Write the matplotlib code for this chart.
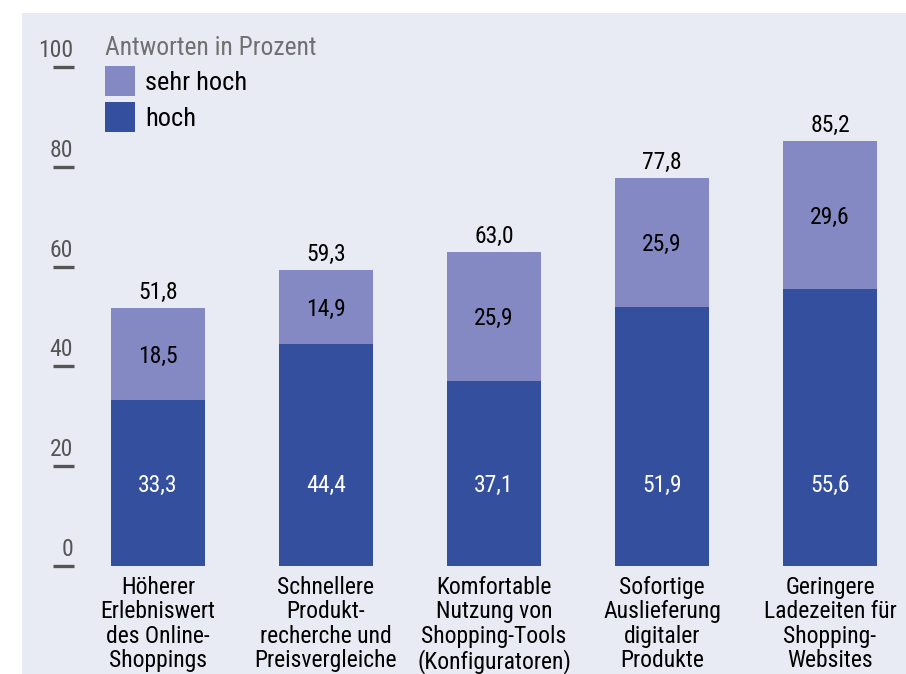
import matplotlib
matplotlib.use("Agg")
import matplotlib.pyplot as plt
from matplotlib import font_manager as fm
from matplotlib.patches import Rectangle, Patch
from matplotlib.transforms import ScaledTranslation

# pick a condensed font if any is installed
entries = fm.fontManager.ttflist
cond = [f for f in entries if f.stretch in ("condensed", "semi-condensed", "extra-condensed", 500, 400, 300, 200, 100)
        or "Condensed" in f.name or "Narrow" in f.name]
pref = ["Roboto Condensed", "Open Sans Condensed", "Liberation Sans Narrow", "DejaVu Sans"]
chosen = None
stretch = "normal"
for p in pref:
    for f in cond:
        if f.name == p:
            chosen, stretch = p, f.stretch
            break
    if chosen:
        break
if chosen is None and cond:
    chosen, stretch = cond[0].name, cond[0].stretch
if chosen is None:
    chosen = "Roboto"
plt.rcParams['font.family'] = [chosen, 'DejaVu Sans']
plt.rcParams['font.stretch'] = stretch if isinstance(stretch, str) else "condensed"

categories = [
    "Höherer\nErlebniswert\ndes Online-\nShoppings",
    "Schnellere\nProdukt-\nrecherche und\nPreisvergleiche",
    "Komfortable\nNutzung von\nShopping-Tools\n(Konfiguratoren)",
    "Sofortige\nAuslieferung\ndigitaler\nProdukte",
    "Geringere\nLadezeiten für\nShopping-\nWebsites",
]
hoch = [33.3, 44.4, 37.1, 51.9, 55.6]
sehr_hoch = [18.5, 14.9, 25.9, 25.9, 29.6]
totals = [51.8, 59.3, 63.0, 77.8, 85.2]
yticks = [0, 20, 40, 60, 80, 100]
legend_title = "Antworten in Prozent"
series_names = ["sehr hoch", "hoch"]

DARK = "#344f9e"
LIGHT = "#8489c3"
BG = "#e9ebf4"
GRAY = "#555555"

W, H, DPI = 906, 674, 100
fig = plt.figure(figsize=(W / DPI, H / DPI), dpi=DPI)
fig.patch.set_facecolor("white")
fig.patches.append(Rectangle((22 / W, 0), 1 - 22 / W, (H - 13) / H,
                             transform=fig.transFigure, facecolor=BG,
                             edgecolor="none", zorder=-10))

ax = fig.add_axes([74 / W, 108 / H, (W - 74) / W, 499 / H])
ax.set_facecolor("none")
for s in ax.spines.values():
    s.set_visible(False)

x = list(range(len(categories)))
bw = 0.56
ax.bar(x, hoch, width=bw, color=DARK, zorder=2)
ax.bar(x, sehr_hoch, bottom=hoch, width=bw, color=LIGHT, zorder=2)

fmt = lambda v: f"{v:.1f}".replace(".", ",")
fs = 17
for i in x:
    ax.text(i, 14.8, fmt(hoch[i]), ha="center", va="baseline", color="white", fontsize=fs)
    ax.text(i, hoch[i] + sehr_hoch[i] / 2, fmt(sehr_hoch[i]), ha="center",
            va="center_baseline", color="black", fontsize=fs)
    ax.annotate(fmt(totals[i]), (i, totals[i]), xytext=(0, 6.5), textcoords="offset points",
                ha="center", va="baseline", color="black", fontsize=fs)

ax.set_xlim(-0.5, (W - 158) / 168)
ax.set_ylim(0, 100)
ax.set_xticks(x)
ax.set_xticklabels(categories, fontsize=fs, linespacing=1.08, color="black")
ax.tick_params(axis="x", length=0, pad=7)
ax.set_yticks(yticks)
ax.set_yticklabels([str(t) for t in yticks], fontsize=fs, color=GRAY)
ax.tick_params(axis="y", direction="out", length=15.1, width=2.4, color=GRAY, pad=0)
off = ScaledTranslation(20 / DPI, 10 / DPI, fig.dpi_scale_trans)
for lab in ax.get_yticklabels():
    lab.set_transform(lab.get_transform() + off)
    lab.set_verticalalignment("baseline")

lfs = 19
handles = [Patch(facecolor=LIGHT, edgecolor="none"), Patch(facecolor=DARK, edgecolor="none")]
leg = fig.legend(handles, series_names, loc="upper left",
                 bbox_to_anchor=(105 / W, 1 - 36 / H), bbox_transform=fig.transFigure,
                 frameon=False, fontsize=lfs, title=legend_title, title_fontsize=18.4,
                 alignment="left", handlelength=1.14, handleheight=1.37,
                 labelspacing=0.23, handletextpad=0.38, borderpad=0, borderaxespad=0)
leg.get_title().set_color("#707070")

fig.savefig("out.png", dpi=DPI, facecolor=fig.get_facecolor())
